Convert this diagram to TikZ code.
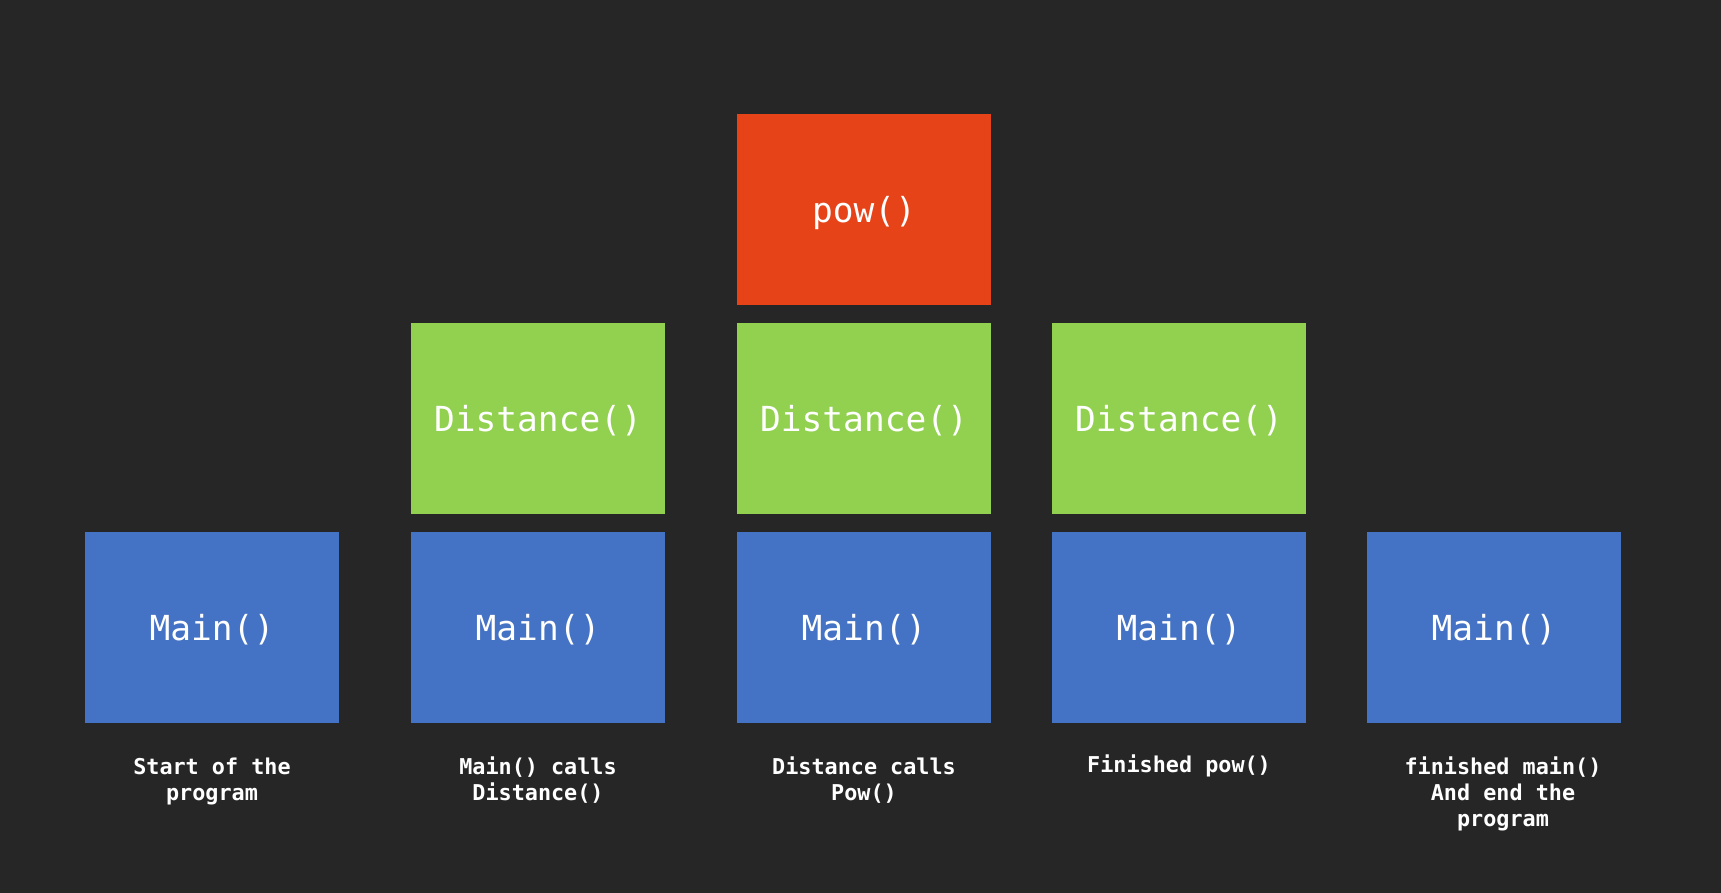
\documentclass[tikz,border=0pt]{standalone}
\usepackage{fontspec}
\setmonofont{DejaVu Sans Mono}
\usetikzlibrary{positioning}

\definecolor{bg}{HTML}{262626}
\definecolor{mainblue}{HTML}{4472C4}
\definecolor{distgreen}{HTML}{92D050}
\definecolor{powred}{HTML}{E74319}

\begin{document}
\begin{tikzpicture}[x=1pt, y=1pt,
	frame/.style={minimum width=254pt, minimum height=191pt, inner sep=0pt, text=white,
		text depth=0pt, font=\ttfamily\fontsize{34.5}{40}\selectfont},
	mainbox/.style={frame, fill=mainblue},
	distbox/.style={frame, fill=distgreen},
	powbox/.style={frame, fill=powred},
	note/.style={text=white, align=center, inner sep=0pt,
		font=\ttfamily\bfseries\fontsize{21.8}{26}\selectfont}]
	
	\useasboundingbox (0,0) rectangle (1721,892);
	\fill[bg] (-2,-2) rectangle (1723,894);
	
	\def\rowmain{264.5};
	\def\rowdist{473.5};
	\def\rowpow{682.5};
	
	% bottom row
	\node[mainbox] (m1) at (212,\rowmain) {Main()};
	\node[mainbox] (m2) at (538,\rowmain) {Main()};
	\node[mainbox] (m3) at (864,\rowmain) {Main()};
	\node[mainbox] (m4) at (1179,\rowmain) {Main()};
	\node[mainbox] (m5) at (1494,\rowmain) {Main()};
	
	% stacked calls
	\node[distbox] (d2) at (538,\rowdist) {Distance()};
	\node[distbox] (d3) at (864,\rowdist) {Distance()};
	\node[distbox] (d4) at (1179,\rowdist) {Distance()};
	\node[powbox] (p3) at (864,\rowpow) {pow()};
	
	% captions
	\node[note, below=35pt of m1] (n1) {Start of the\\program};
	\node[note, below=33pt of m2] (n2) {Main() calls\\Distance()};
	\node[note, below=33pt of m3] (n3) {Distance calls\\Pow()};
	\node[note, below=31pt of m4] (n4) {Finished pow()};
	\node[note, below=33pt of m5, xshift=9pt] (n5) {finished main()\\And end the\\program};
\end{tikzpicture}
\end{document}
